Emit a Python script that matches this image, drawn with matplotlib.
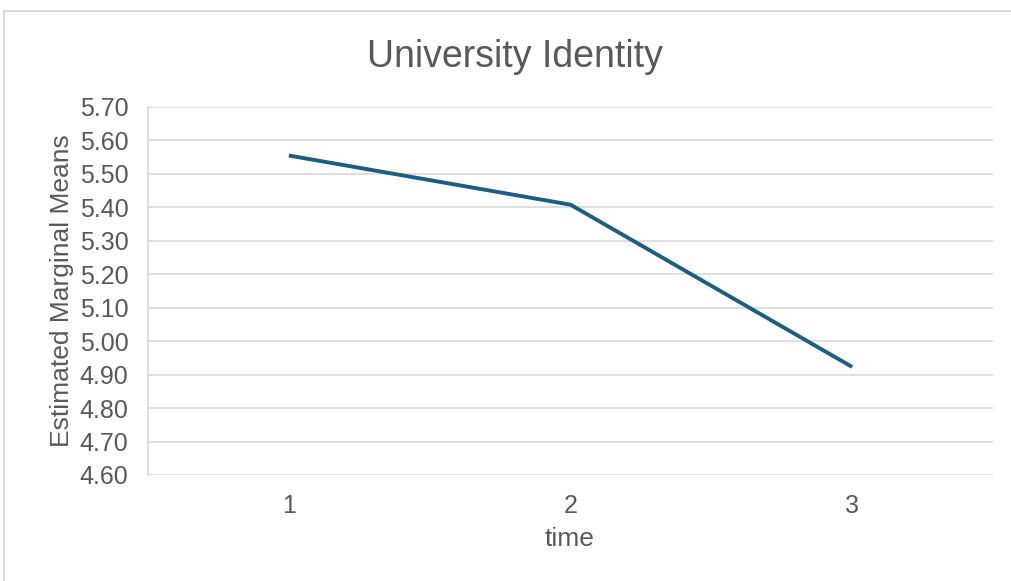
import matplotlib.pyplot as plt
from matplotlib.patches import Rectangle

times = [1, 2, 3]
means = [5.555, 5.408, 4.923]
yticks = [4.6, 4.7, 4.8, 4.9, 5.0, 5.1, 5.2, 5.3, 5.4, 5.5, 5.6, 5.7]

plt.rcParams['font.family'] = ['Liberation Sans', 'DejaVu Sans']
grey = '#595959'

fig = plt.figure(figsize=(10.12, 5.81), dpi=100)
fig.patches.append(Rectangle((4 / 1012, -0.1), 1.1, 1 - 11 / 581 + 0.1,
                             transform=fig.transFigure, fill=False,
                             edgecolor='#d9d9d9', linewidth=1.5))
ax = fig.add_axes([148 / 1012, 1 - 475 / 581, 845 / 1012, 368 / 581])

ax.plot(times, means, color='#1b5e80', linewidth=2.8, solid_capstyle='butt')

ax.set_xlim(0.5, 3.5)
ax.set_ylim(4.6, 5.7)
ax.set_xticks(times)
ax.set_yticks(yticks)
ax.set_yticklabels(['%.2f' % v for v in yticks])
ax.grid(axis='y', color='#d9d9d9', linewidth=1.2)
ax.set_axisbelow(True)
for s in ['top', 'right', 'bottom']:
    ax.spines[s].set_visible(False)
ax.spines['left'].set_color('#d9d9d9')
ax.spines['left'].set_linewidth(1.2)
ax.tick_params(length=0, labelsize=18, colors=grey)
ax.tick_params(axis='y', pad=14)
ax.tick_params(axis='x', pad=14)

fig.text(570 / 1012, 1 - 539 / 581, 'time', ha='center', va='center',
         fontsize=19, color=grey)
fig.text(62 / 1012, 1 - 291 / 581, 'Estimated Marginal Means', ha='center', va='center',
         rotation=90, fontsize=19, color=grey)
fig.text(515 / 1012, 1 - 67 / 581, 'University Identity', ha='center', va='baseline',
         fontsize=27, color=grey)

fig.savefig('out.png', dpi=100)
